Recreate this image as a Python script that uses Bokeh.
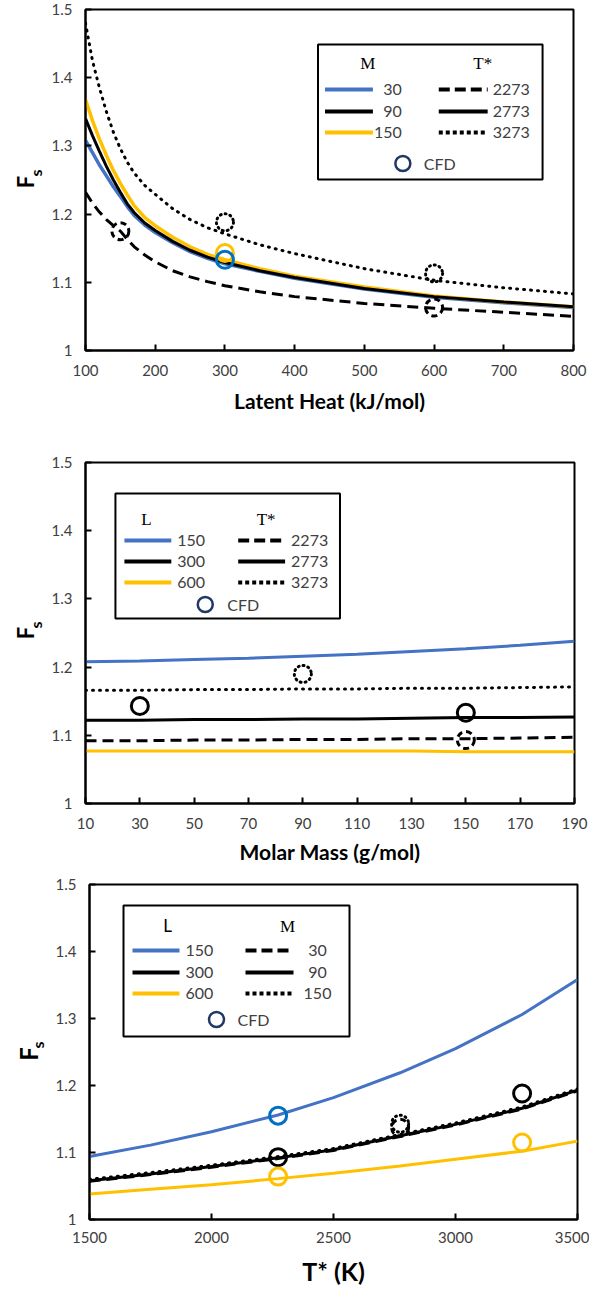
import math
from bokeh.plotting import figure
from bokeh.models import Range1d, FixedTicker, Label, BoxAnnotation
from bokeh.layouts import column, row
from bokeh.embed import file_html
from bokeh.resources import INLINE
from bokeh.core.properties import value

# ---------------- Panel 1 data : F_s vs latent heat ----------------
latent_heat = [100, 110, 120, 130, 140, 150, 160, 170, 185, 200, 225, 250, 275, 300,
               350, 400, 500, 600, 700, 800]
fs_m30 = [1.308, 1.290, 1.272, 1.256, 1.240, 1.226, 1.211, 1.198, 1.184, 1.173, 1.158, 1.145,
          1.135, 1.127, 1.116, 1.106, 1.090, 1.078, 1.070, 1.063]
fs_m90 = [1.340, 1.315, 1.292, 1.270, 1.250, 1.232, 1.215, 1.202, 1.187, 1.176, 1.160, 1.147,
          1.137, 1.129, 1.117, 1.107, 1.091, 1.079, 1.071, 1.064]
fs_m150 = [1.368, 1.337, 1.310, 1.286, 1.264, 1.245, 1.228, 1.212, 1.195, 1.183, 1.166, 1.152,
           1.141, 1.133, 1.120, 1.109, 1.093, 1.080, 1.071, 1.064]
fs_t2273 = [1.232, 1.216, 1.203, 1.192, 1.183, 1.175, 1.163, 1.152, 1.140, 1.130, 1.117, 1.108,
            1.101, 1.095, 1.086, 1.079, 1.069, 1.062, 1.056, 1.050]
fs_t3273 = [1.480, 1.425, 1.385, 1.350, 1.320, 1.296, 1.276, 1.260, 1.242, 1.229, 1.208, 1.192,
            1.180, 1.171, 1.155, 1.142, 1.120, 1.103, 1.092, 1.083]
cfd1_dash_x = [150, 600]
cfd1_dash_y = [1.175, 1.063]
cfd1_dot_x = [300, 600]
cfd1_dot_y = [1.188, 1.113]
cfd1_m30_x = [300]
cfd1_m30_y = [1.133]
cfd1_m150_x = [300]
cfd1_m150_y = [1.143]

# ---------------- Panel 2 data : F_s vs molar mass ----------------
molar_mass = [10, 30, 50, 70, 90, 110, 130, 150, 170, 190]
fs2_l150 = [1.208, 1.209, 1.211, 1.213, 1.216, 1.219, 1.223, 1.227, 1.232, 1.238]
fs2_l300 = [1.122, 1.122, 1.123, 1.123, 1.124, 1.124, 1.125, 1.126, 1.126, 1.127]
fs2_l600 = [1.077, 1.077, 1.077, 1.077, 1.077, 1.077, 1.077, 1.076, 1.076, 1.076]
fs2_t2273 = [1.092, 1.092, 1.093, 1.093, 1.094, 1.094, 1.095, 1.095, 1.096, 1.097]
fs2_t3273 = [1.166, 1.166, 1.167, 1.167, 1.168, 1.168, 1.169, 1.169, 1.170, 1.171]
cfd2_solid_x = [30, 150]
cfd2_solid_y = [1.143, 1.133]
cfd2_dot_x = [90]
cfd2_dot_y = [1.190]
cfd2_dash_x = [150]
cfd2_dash_y = [1.093]

# ---------------- Panel 3 data : F_s vs T* ----------------
t_star = [1500, 1750, 2000, 2273, 2500, 2773, 3000, 3273, 3500]
fs3_l150 = [1.094, 1.111, 1.131, 1.156, 1.182, 1.219, 1.255, 1.306, 1.358]
fs3_l300 = [1.058, 1.068, 1.079, 1.092, 1.104, 1.125, 1.142, 1.166, 1.193]
fs3_l600 = [1.038, 1.045, 1.052, 1.061, 1.069, 1.080, 1.090, 1.102, 1.117]
fs3_m30 = [1.057, 1.067, 1.078, 1.091, 1.103, 1.124, 1.141, 1.165, 1.192]
fs3_m150 = [1.060, 1.070, 1.081, 1.094, 1.106, 1.127, 1.144, 1.168, 1.195]
cfd3_l150_x = [2273]
cfd3_l150_y = [1.155]
cfd3_l300_x = [2273, 3273]
cfd3_l300_y = [1.093, 1.188]
cfd3_l600_x = [2273, 3273]
cfd3_l600_y = [1.064, 1.115]
cfd3_dash_x = [2773]
cfd3_dash_y = [1.137]
cfd3_dot_x = [2773]
cfd3_dot_y = [1.143]

y_ticks = [1, 1.1, 1.2, 1.3, 1.4, 1.5]
x1_ticks = [100, 200, 300, 400, 500, 600, 700, 800]
x2_ticks = [10, 30, 50, 70, 90, 110, 130, 150, 170, 190]
x3_ticks = [1500, 2000, 2500, 3000, 3500]

legend1_left = ["30", "90", "150"]
legend1_right = ["2273", "2773", "3273"]
legend2_left = ["150", "300", "600"]
legend2_right = ["2273", "2773", "3273"]
legend3_left = ["150", "300", "600"]
legend3_right = ["30", "90", "150"]

# ---------------- styles ----------------
BLUE = "#4472C4"
CFD_BLUE = "#0070C0"
YELLOW = "#FFC000"
NAVY = "#1F3864"
TXT = "#404040"
SANS = "Lato"
SERIF = "Liberation Serif"
W = 589          # total page width used
LW = 48          # width of the strip that holds the vertical "F_s" label
DASH = "11 6"
DOT = "1 6"


def make_fig(height, xr, xt, fL, fR, bt, bb, xlabel, xlabel_size, tick_standoff, title_standoff):
    p = figure(width=W - LW, height=height, x_range=Range1d(xr[0], xr[1]),
               y_range=Range1d(1.0, 1.5), output_backend="svg",
               toolbar_location=None, min_border_left=fL - LW, min_border_right=W - fR,
               min_border_top=bt, min_border_bottom=bb)
    p.grid.visible = False
    p.outline_line_color = "black"
    p.outline_line_width = 2
    p.outline_line_alpha = 1
    p.xaxis.ticker = FixedTicker(ticks=xt)
    p.yaxis.ticker = FixedTicker(ticks=y_ticks)
    p.yaxis.major_label_overrides = {1: "1"}
    p.axis.axis_line_width = 2
    p.axis.axis_line_color = "black"
    p.axis.major_tick_in = 6
    p.axis.major_tick_out = 0
    p.axis.major_tick_line_width = 2
    p.axis.minor_tick_in = 0
    p.axis.minor_tick_out = 0
    p.axis.major_label_text_font = SANS
    p.axis.major_label_text_font_size = "15px"
    p.axis.major_label_text_color = TXT
    p.yaxis.major_label_standoff = 13
    p.xaxis.major_label_standoff = tick_standoff
    if xlabel:
        p.xaxis.axis_label = xlabel
        p.xaxis.axis_label_text_font = SANS
        p.xaxis.axis_label_text_font_style = "bold"
        p.xaxis.axis_label_text_font_size = xlabel_size
        p.xaxis.axis_label_text_color = "black"
        p.xaxis.axis_label_standoff = title_standoff
    return p


def ylab_fig(height, bt, bb, F_pos, s_pos, fsize, ssize):
    """Narrow strip left of a panel holding the rotated F_s label.
    Its frame has the same vertical extent and range as the panel's frame."""
    lf = figure(width=LW, height=height, x_range=Range1d(0, LW), y_range=Range1d(1.0, 1.5),
                x_axis_type=None, y_axis_type=None, output_backend="svg",
                toolbar_location=None, min_border_left=0, min_border_right=0,
                min_border_top=bt, min_border_bottom=bb)
    lf.outline_line_color = None
    fh = height - bt - bb
    for txt, (wx, dy), size in (("F", F_pos, fsize), ("s", s_pos, ssize)):
        lf.text(x=[wx], y=[1.25 - dy * 0.5 / fh], text=[txt], angle=math.pi / 2,
                text_align="center", text_baseline="middle", text_font=value(SANS),
                text_font_style="bold", text_font_size=value(size), text_color="black")
    return lf


def xtitle_fig(height, text, cx, cy_from_bottom, size):
    """Strip under a panel that holds its x-axis title (pixel coordinates)."""
    tf = figure(width=W, height=height, x_range=Range1d(0, W), y_range=Range1d(0, height),
                x_axis_type=None, y_axis_type=None, output_backend="svg",
                toolbar_location=None, min_border=0)
    tf.outline_line_color = None
    tf.text(x=[cx], y=[cy_from_bottom], text=[text], text_align="center",
            text_baseline="middle", text_font=value(SANS), text_font_style="bold",
            text_font_size=value(size), text_color="black")
    return tf


def frame_map(xr, L, R, T, B):
    def fx(px):
        return xr[0] + (px - L) / (R - L) * (xr[1] - xr[0])

    def fy(py):
        return 1.5 - (py - T) / (B - T) * 0.5
    return fx, fy


def legend(p, fx, fy, box, headers, rows, left_x, left_colors, left_labels, left_lab_x, left_align,
           right_x, right_dashes, right_labels, right_lab_x, right_align, cfd_xy, cfd_text_x):
    p.add_layout(BoxAnnotation(left=fx(box[0]), right=fx(box[2]), top=fy(box[1]), bottom=fy(box[3]),
                               fill_color="white", fill_alpha=1, line_color="black",
                               line_width=2, line_alpha=1, level="underlay"))
    for text, hx, hy, font in headers:
        p.add_layout(Label(x=fx(hx), y=fy(hy), text=text, text_align="center",
                           text_baseline="middle", text_font=font, text_font_size="17px",
                           text_color="black"))
    for i, ry in enumerate(rows):
        p.line([fx(left_x[0]), fx(left_x[1])], [fy(ry), fy(ry)], line_color=left_colors[i],
               line_width=4)
        p.add_layout(Label(x=fx(left_lab_x), y=fy(ry), text=left_labels[i], text_align=left_align,
                           text_baseline="middle", text_font=SANS, text_font_size="16px",
                           text_color=TXT))
        p.line([fx(right_x[0]), fx(right_x[1])], [fy(ry), fy(ry)], line_color="black",
               line_width=4, line_dash=right_dashes[i])
        p.add_layout(Label(x=fx(right_lab_x), y=fy(ry), text=right_labels[i], text_align=right_align,
                           text_baseline="middle", text_font=SANS, text_font_size="16px",
                           text_color=TXT))
    p.scatter([fx(cfd_xy[0])], [fy(cfd_xy[1])], marker="circle", size=15, fill_color=None,
              line_color=NAVY, line_width=2.5)
    p.add_layout(Label(x=fx(cfd_text_x), y=fy(cfd_xy[1]), text="CFD", text_align="left",
                       text_baseline="middle", text_font=SANS, text_font_size="16px",
                       text_color=TXT))


def cfd(p, xs, ys, color, dash="solid", cap="butt"):
    p.scatter(xs, ys, marker="circle", size=17, fill_color=None, line_color=color,
              line_width=3, line_dash=dash, line_cap=cap)


# ---------------- Panel 1 ----------------
xr1 = (100, 800)
H1, BT1, BB1 = 424, 9, 74
p1 = make_fig(H1, xr1, x1_ticks, 84, 573, BT1, BB1, "Latent Heat (kJ/mol)", "21px", 14, 9)
p1.line(latent_heat, fs_t2273, line_color="black", line_width=3, line_dash=DASH)
p1.line(latent_heat, fs_t3273, line_color="black", line_width=3, line_dash=DOT, line_cap="round")
p1.line(latent_heat, fs_m30, line_color=BLUE, line_width=3.5)
p1.line(latent_heat, fs_m150, line_color=YELLOW, line_width=3.5)
p1.line(latent_heat, fs_m90, line_color="black", line_width=3)
cfd(p1, cfd1_dash_x, cfd1_dash_y, "black", "6 4")
cfd(p1, cfd1_dot_x, cfd1_dot_y, "black", "1 4", "round")
cfd(p1, cfd1_m150_x, cfd1_m150_y, YELLOW)
cfd(p1, cfd1_m30_x, cfd1_m30_y, CFD_BLUE)
fx1, fy1 = frame_map(xr1, 84, 573, 9, 350)
legend(p1, fx1, fy1, (317, 44, 542, 179),
       [("M", 367, 63, SERIF), ("T*", 482, 63, SERIF)],
       [89, 111, 132], (324, 372), [BLUE, "black", YELLOW], legend1_left, 401, "right",
       (438, 487), ["11 5", "solid", "4 3"], legend1_right, 492, "left", (402, 163), 423)
l1 = ylab_fig(H1, BT1, BB1, (25, 2), (35, -7), "22px", "16px")

# ---------------- Panel 2 ----------------
xr2 = (10, 190)
H2, BT2, BB2 = 451, 38, 72
p2 = make_fig(H2, xr2, x2_ticks, 84, 574, BT2, BB2, "Molar Mass (g/mol)", "21px", 14, 7)
p2.line(molar_mass, fs2_l150, line_color=BLUE, line_width=3)
p2.line(molar_mass, fs2_t3273, line_color="black", line_width=3, line_dash=DOT, line_cap="round")
p2.line(molar_mass, fs2_l300, line_color="black", line_width=3)
p2.line(molar_mass, fs2_t2273, line_color="black", line_width=3, line_dash=DASH)
p2.line(molar_mass, fs2_l600, line_color=YELLOW, line_width=3)
cfd(p2, cfd2_solid_x, cfd2_solid_y, "black")
cfd(p2, cfd2_dot_x, cfd2_dot_y, "black", "1 4", "round")
cfd(p2, cfd2_dash_x, cfd2_dash_y, "black", "6 4")
fx2, fy2 = frame_map(xr2, 84, 574, 462, 803)
legend(p2, fx2, fy2, (114, 493, 339, 618),
       [("L", 145, 519, SERIF), ("T*", 265, 519, SERIF)],
       [540, 561, 582], (123, 170), [BLUE, "black", YELLOW], legend2_left, 176, "left",
       (237, 284), ["11 5", "solid", "4 3"], legend2_right, 290, "left", (204, 604), 226)
l2 = ylab_fig(H2, BT2, BB2, (25, 0), (35, -8), "22px", "16px")

# ---------------- Panel 3 ----------------
xr3 = (1500, 3500)
H3, BT3, BB3 = 376, 9, 32
p3 = make_fig(H3, xr3, x3_ticks, 89, 577, BT3, BB3, None, None, 12, 0)
p3.line(t_star, fs3_l150, line_color=BLUE, line_width=3)
p3.line(t_star, fs3_m150, line_color="black", line_width=3, line_dash=DOT, line_cap="round")
p3.line(t_star, fs3_m30, line_color="black", line_width=3, line_dash=DASH)
p3.line(t_star, fs3_l300, line_color="black", line_width=3)
p3.line(t_star, fs3_l600, line_color=YELLOW, line_width=3)
cfd(p3, cfd3_l150_x, cfd3_l150_y, CFD_BLUE)
cfd(p3, cfd3_l300_x, cfd3_l300_y, "black")
cfd(p3, cfd3_l600_x, cfd3_l600_y, YELLOW)
cfd(p3, cfd3_dash_x, cfd3_dash_y, "black", "6 4")
cfd(p3, cfd3_dot_x, cfd3_dot_y, "black", "1 4", "round")
fx3, fy3 = frame_map(xr3, 89, 577, 884, 1219)
legend(p3, fx3, fy3, (123, 905, 349, 1036),
       [("L", 167, 925, SANS), ("M", 287, 926, SERIF)],
       [950, 972, 993], (132, 179), [BLUE, "black", YELLOW], legend3_left, 185, "left",
       (245, 293), ["11 5", "solid", "4 3"], legend3_right, 317, "center", (216, 1019), 237)
l3 = ylab_fig(H3, BT3, BB3, (28, 2), (37, -7), "24px", "16px")
t3 = xtitle_fig(36, "T* (K)", 333, 17, "25px")

layout = column(row(l1, p1, spacing=0), row(l2, p2, spacing=0), row(l3, p3, spacing=0), t3,
                spacing=0)
open("out.html", "w").write(file_html(layout, INLINE))
